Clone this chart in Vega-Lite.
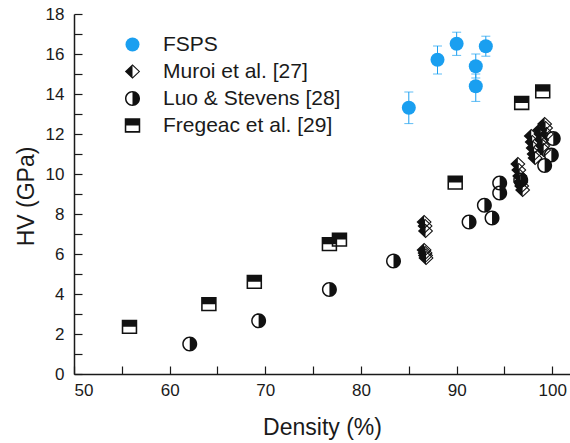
{
  "$schema": "https://vega.github.io/schema/vega-lite/v6.json",
  "width": 496,
  "height": 360,
  "autosize": "none",
  "padding": {"left": 74, "top": 14, "right": 0, "bottom": 69},
  "background": "white",
  "config": {
    "view": {"stroke": null},
    "font": "Liberation Sans",
    "axis": {
      "domainColor": "#1a1a1a",
      "domainWidth": 1.5,
      "tickColor": "#1a1a1a",
      "tickWidth": 1.2,
      "grid": false,
      "labelFont": "Liberation Sans",
      "labelFontSize": 17,
      "labelColor": "#1a1a1a",
      "titleFont": "Liberation Sans",
      "titleFontSize": 23,
      "titleFontWeight": "normal",
      "titleColor": "#1a1a1a"
    }
  },
  "datasets": {
    "pts": [
      {"series": "FSPS", "d": 85.0, "hv": 13.31, "lo": 12.52, "hi": 14.1},
      {"series": "FSPS", "d": 88.0, "hv": 15.71, "lo": 15.0, "hi": 16.4},
      {"series": "FSPS", "d": 90.0, "hv": 16.51, "lo": 15.93, "hi": 17.09},
      {"series": "FSPS", "d": 92.0, "hv": 15.39, "lo": 14.8, "hi": 16.0},
      {"series": "FSPS", "d": 92.0, "hv": 14.39, "lo": 13.63, "hi": 15.0},
      {"series": "FSPS", "d": 93.05, "hv": 16.39, "lo": 15.89, "hi": 16.89},
      {"series": "Muroi et al. [27]", "d": 86.6, "hv": 7.6},
      {"series": "Muroi et al. [27]", "d": 86.7, "hv": 7.4},
      {"series": "Muroi et al. [27]", "d": 86.75, "hv": 7.15},
      {"series": "Muroi et al. [27]", "d": 86.6, "hv": 6.2},
      {"series": "Muroi et al. [27]", "d": 86.7, "hv": 6.05},
      {"series": "Muroi et al. [27]", "d": 86.75, "hv": 5.92},
      {"series": "Muroi et al. [27]", "d": 86.8, "hv": 5.8},
      {"series": "Muroi et al. [27]", "d": 96.4, "hv": 10.5},
      {"series": "Muroi et al. [27]", "d": 96.5, "hv": 10.2},
      {"series": "Muroi et al. [27]", "d": 96.6, "hv": 9.9},
      {"series": "Muroi et al. [27]", "d": 96.7, "hv": 9.6},
      {"series": "Muroi et al. [27]", "d": 96.8, "hv": 9.4},
      {"series": "Muroi et al. [27]", "d": 96.9, "hv": 9.2},
      {"series": "Muroi et al. [27]", "d": 97.8, "hv": 11.9},
      {"series": "Muroi et al. [27]", "d": 97.9, "hv": 11.6},
      {"series": "Muroi et al. [27]", "d": 98.0, "hv": 11.3},
      {"series": "Muroi et al. [27]", "d": 98.1, "hv": 11.0},
      {"series": "Muroi et al. [27]", "d": 98.2, "hv": 10.8},
      {"series": "Muroi et al. [27]", "d": 98.7, "hv": 12.2},
      {"series": "Muroi et al. [27]", "d": 98.8, "hv": 12.0},
      {"series": "Muroi et al. [27]", "d": 98.9, "hv": 11.7},
      {"series": "Muroi et al. [27]", "d": 99.0, "hv": 11.4},
      {"series": "Muroi et al. [27]", "d": 99.1, "hv": 11.2},
      {"series": "Muroi et al. [27]", "d": 99.2, "hv": 12.5},
      {"series": "Muroi et al. [27]", "d": 99.3, "hv": 12.3},
      {"series": "Muroi et al. [27]", "d": 99.4, "hv": 12.0},
      {"series": "Luo & Stevens [28]", "d": 62.1, "hv": 1.5},
      {"series": "Luo & Stevens [28]", "d": 69.3, "hv": 2.66},
      {"series": "Luo & Stevens [28]", "d": 76.7, "hv": 4.23},
      {"series": "Luo & Stevens [28]", "d": 83.4, "hv": 5.65},
      {"series": "Luo & Stevens [28]", "d": 91.3, "hv": 7.6},
      {"series": "Luo & Stevens [28]", "d": 92.9, "hv": 8.44},
      {"series": "Luo & Stevens [28]", "d": 93.7, "hv": 7.8},
      {"series": "Luo & Stevens [28]", "d": 94.5, "hv": 9.05},
      {"series": "Luo & Stevens [28]", "d": 94.5, "hv": 9.55},
      {"series": "Luo & Stevens [28]", "d": 96.7, "hv": 9.7},
      {"series": "Luo & Stevens [28]", "d": 99.2, "hv": 10.42},
      {"series": "Luo & Stevens [28]", "d": 99.9, "hv": 10.95},
      {"series": "Luo & Stevens [28]", "d": 100.1, "hv": 11.77},
      {"series": "Fregeac et al. [29]", "d": 55.8, "hv": 2.36},
      {"series": "Fregeac et al. [29]", "d": 64.1, "hv": 3.49},
      {"series": "Fregeac et al. [29]", "d": 68.85, "hv": 4.61},
      {"series": "Fregeac et al. [29]", "d": 76.7, "hv": 6.49},
      {"series": "Fregeac et al. [29]", "d": 77.75, "hv": 6.72},
      {"series": "Fregeac et al. [29]", "d": 89.85, "hv": 9.57},
      {"series": "Fregeac et al. [29]", "d": 96.8, "hv": 13.55},
      {"series": "Fregeac et al. [29]", "d": 99.0, "hv": 14.13}
    ]
  },
  "data": {"name": "pts"},
  "encoding": {
    "x": {
      "field": "d",
      "type": "quantitative",
      "title": "Density (%)",
      "scale": {"domain": [50, 101.85], "nice": false, "zero": false},
      "axis": {
        "values": [50, 55, 60, 65, 70, 75, 80, 85, 90, 95, 100],
        "labelExpr": "datum.value % 10 === 0 ? datum.label : ''",
        "tickSize": -8,
        "labelPadding": 16,
        "encoding": {"ticks": {"update": {"y2": {"signal": "datum.value % 10 === 0 ? -8 : -4"}}}},
        "titleX": 248,
        "titleY": 60,
        "titleBaseline": "alphabetic"
      }
    },
    "y": {
      "field": "hv",
      "type": "quantitative",
      "title": "HV (GPa)",
      "scale": {"domain": [0, 18], "nice": false},
      "axis": {
        "values": [0, 1, 2, 3, 4, 5, 6, 7, 8, 9, 10, 11, 12, 13, 14, 15, 16, 17, 18],
        "labelExpr": "datum.value % 2 === 0 ? datum.label : ''",
        "tickSize": -8,
        "labelPadding": 18,
        "encoding": {"ticks": {"update": {"x2": {"signal": "datum.value % 2 === 0 ? 8 : 5"}}}},
        "titleX": -41,
        "titleY": 182,
        "titleAngle": -90,
        "titleBaseline": "alphabetic",
        "titleAlign": "center"
      }
    }
  },
  "layer": [
    {
      "data": {"values": [{}]},
      "mark": {"type": "rule", "color": "#1a1a1a", "strokeWidth": 2},
      "encoding": {"x": null, "y": {"datum": 18, "type": "quantitative"}}
    },
    {
      "transform": [{"filter": "datum.series === 'FSPS'"}],
      "mark": {"type": "rule", "color": "#1a9ff0", "strokeWidth": 1},
      "encoding": {"y": {"field": "lo", "type": "quantitative"}, "y2": {"field": "hi"}}
    },
    {
      "transform": [{"filter": "datum.series === 'FSPS'"}],
      "mark": {"type": "tick", "orient": "horizontal", "color": "#1a9ff0", "size": 9, "thickness": 1},
      "encoding": {"y": {"field": "lo", "type": "quantitative"}}
    },
    {
      "transform": [{"filter": "datum.series === 'FSPS'"}],
      "mark": {"type": "tick", "orient": "horizontal", "color": "#1a9ff0", "size": 9, "thickness": 1},
      "encoding": {"y": {"field": "hi", "type": "quantitative"}}
    },
    {
      "transform": [{"filter": "datum.series === 'Muroi et al. [27]'"}],
      "mark": {"type": "point", "filled": true, "opacity": 1, "color": "white", "size": 240, "shape": "M0,-1L1.05,0L0,1L-1.05,0Z"}
    },
    {
      "transform": [{"filter": "datum.series === 'Luo & Stevens [28]'"}],
      "mark": {"type": "point", "filled": true, "opacity": 1, "color": "white", "size": 169, "shape": "circle"}
    },
    {
      "transform": [{"filter": "datum.series === 'Fregeac et al. [29]'"}],
      "mark": {"type": "point", "filled": true, "opacity": 1, "color": "white", "size": 160, "shape": "M-1,-0.92L1,-0.92L1,0.92L-1,0.92Z"}
    },
    {
      "mark": {"type": "point", "filled": true, "opacity": 1, "strokeWidth": 0},
      "encoding": {
        "color": {
          "field": "series",
          "type": "nominal",
          "scale": {
            "domain": ["FSPS", "Muroi et al. [27]", "Luo & Stevens [28]", "Fregeac et al. [29]"],
            "range": ["#1a9ff0", "#111111", "#111111", "#111111"]
          },
          "legend": {
            "orient": "none",
            "legendX": 48,
            "legendY": 20,
            "title": null,
            "padding": 0,
            "labelFont": "Liberation Sans",
            "labelFontSize": 21,
            "labelColor": "#1a1a1a",
            "labelLimit": 300,
            "labelOffset": 20,
            "rowPadding": 5,
            "symbolStrokeWidth": 0
          }
        },
        "shape": {
          "field": "series",
          "type": "nominal",
          "scale": {
            "domain": ["FSPS", "Muroi et al. [27]", "Luo & Stevens [28]", "Fregeac et al. [29]"],
            "range": [
              "circle",
              "M0,-1L1.05,0L0,1L-1.05,0ZM0,-0.8L-0.84,0L0,0.8L0.84,0ZM0,-1L0,1L-1.05,0Z",
              "M0,-1A1,1 0 0,1 0,1A1,1 0 0,1 0,-1ZM0,-0.8A0.8,0.8 0 0,0 0,0.8A0.8,0.8 0 0,0 0,-0.8ZM0,-1A1,1 0 0,1 0,1Z",
              "M-1,-0.92L1,-0.92L1,0.92L-1,0.92ZM-0.8,-0.72L-0.8,0.72L0.8,0.72L0.8,-0.72ZM-1,-0.92L1,-0.92L1,0L-1,0Z"
            ]
          }
        },
        "size": {
          "field": "series",
          "type": "nominal",
          "scale": {
            "domain": ["FSPS", "Muroi et al. [27]", "Luo & Stevens [28]", "Fregeac et al. [29]"],
            "range": [196, 240, 169, 160]
          }
        }
      }
    }
  ]
}
